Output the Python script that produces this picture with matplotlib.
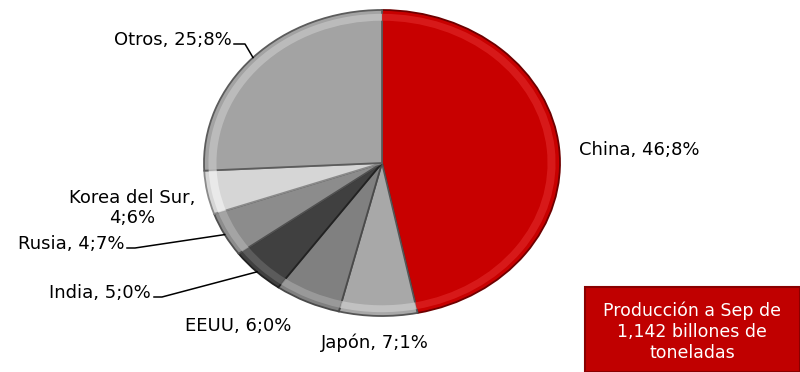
import numpy as np
import matplotlib.pyplot as plt
from matplotlib.patches import Rectangle

paises = ['China', 'Japón', 'EEUU', 'India', 'Rusia', 'Korea del Sur', 'Otros']
valores = [46.8, 7.1, 6.0, 5.0, 4.7, 4.6, 25.8]
etiquetas = ['China, 46;8%', 'Japón, 7;1%', 'EEUU, 6;0%', 'India, 5;0%',
             'Rusia, 4;7%', 'Korea del Sur,\n4;6%', 'Otros, 25;8%']
colores = ['#C80000', '#A8A8A8', '#808080', '#404040', '#8C8C8C', '#D6D6D6', '#A3A3A3']
bordes = ['#6E0000', '#555555', '#4A4A4A', '#222222', '#505050', '#8A8A8A', '#5C5C5C']
brillo = ['#DC2020', '#C8C8C8', '#A0A0A0', '#626262', '#ABABAB', '#EEEEEE', '#C2C2C2']

W, H = 800, 372
CX, CY, RX, RY = 382, 163, 178, 153


def px(x, y):
    # pixel (desde arriba a la izquierda) -> coordenadas de datos
    return (x - CX) / RX, (CY - y) / RY


plt.rcParams['font.family'] = ['DejaVu Sans']
fig = plt.figure(figsize=(W / 100, H / 100), dpi=100)
ax = fig.add_axes([0, 0, 1, 1])

wedges, _ = ax.pie(valores, colors=colores, startangle=90, counterclock=False,
                   radius=1, wedgeprops=dict(edgecolor='none'))
ring, _ = ax.pie(valores, colors=brillo, startangle=90, counterclock=False,
                 radius=0.975, wedgeprops=dict(width=0.045, edgecolor='none', alpha=0.8))
for w, b in zip(wedges, bordes):
    w.set_edgecolor(b)
    w.set_linewidth(1.3)
ax.set_aspect('auto')
ax.set_xlim(px(0, 0)[0], px(W, 0)[0])
ax.set_ylim(px(0, H)[1], px(0, 0)[1])
ax.axis('off')

mid = [np.deg2rad((w.theta1 + w.theta2) / 2) for w in wedges]

fs = 13
# etiquetas sin linea guia
ax.text(*px(579, 150), etiquetas[0], fontsize=fs, ha='left', va='center')
ax.text(*px(375, 343), etiquetas[1], fontsize=fs, ha='center', va='center')
ax.text(*px(238, 326), etiquetas[2], fontsize=fs, ha='center', va='center')
ax.text(*px(132, 208), etiquetas[5], fontsize=fs, ha='center', va='center',
        linespacing=1.1)

# etiquetas con linea guia
guias = [(3, (151, 293), (154, 297)), (4, (124, 244), (127, 248)), (6, (232, 40), (234, 44))]
for i, pos, ini in guias:
    ax.text(*px(*pos), etiquetas[i], fontsize=fs, ha='right', va='center')
    x0, y0 = px(*ini)
    x1, y1 = np.cos(mid[i]), np.sin(mid[i])
    if i == 6:
        xs = [x0, px(245, 0)[0], x1]
    else:
        xs = [x0, px(ini[0] + 8, 0)[0], x1]
    ax.plot(xs, [y0, y0, y1], color='black', lw=1.1, clip_on=False)

# recuadro
fig.patches.append(Rectangle((585 / W, 0), (W - 585) / W, 85 / H, transform=fig.transFigure,
                             facecolor='#C00000', edgecolor='#8A0000', lw=1.5))
fig.text(692 / W, (H - 332) / H, 'Producción a Sep de\n1,142 billones de\ntoneladas',
         color='white', fontsize=12.5, ha='center', va='center', linespacing=1.2)

fig.savefig('out.png', dpi=100)
